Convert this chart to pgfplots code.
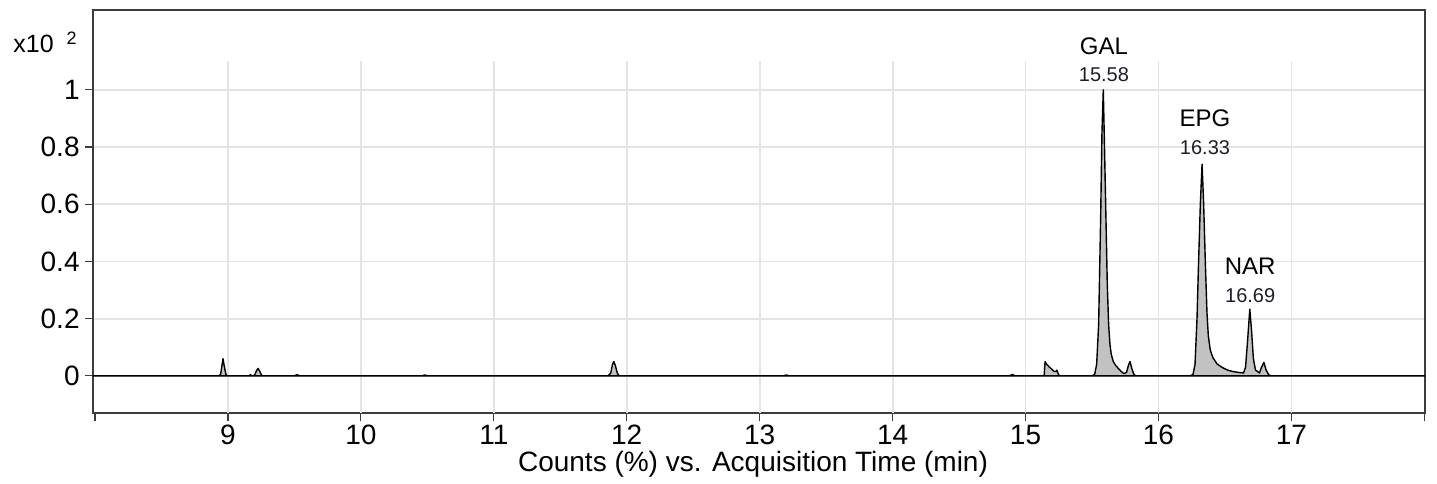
\documentclass[border=0pt]{standalone}
\usepackage{fontspec}
\setmainfont{Liberation Sans}
\usepackage{pgfplots}
\pgfplotsset{compat=1.18}
\definecolor{gridc}{HTML}{E4E4E4}
\definecolor{framec}{HTML}{3C3C3C}
\definecolor{fillc}{HTML}{C2C2C2}
\definecolor{numc}{HTML}{1E1E28}
\begin{document}
\begin{tikzpicture}
\useasboundingbox (-46.5pt,-35pt) rectangle (672pt,206.5pt);
\begin{axis}[
  name=ax,
  scale only axis, width=666pt, height=201.5pt,
  xmin=7.985, xmax=18.005, ymin=-0.130, ymax=1.279,
  axis line style={framec, line width=1.3pt},
  xtick={8,9,10,11,12,13,14,15,16,17,18},
  xticklabels={,9,10,11,12,13,14,15,16,17,},
  ytick={0,0.2,0.4,0.6,0.8,1},
  yticklabels={0,0.2,0.4,0.6,0.8,1},
  tick align=outside, major tick length=4pt,
  xtick pos=bottom, ytick pos=left,
  tick style={framec, line width=0.6pt},
  ymajorgrids, grid style={gridc, line width=0.9pt},
  ticklabel style={font=\fontsize{14}{16}\selectfont},
  yticklabel style={inner sep=2.5pt},
  xticklabel style={inner sep=2pt},
  xlabel={Counts (\%) vs. Acquisition Time (min)},
  xlabel style={font=\fontsize{14}{16}\selectfont, at={(axis description cs:0.5,0)}, anchor=center, yshift=-25.5pt, xshift=-3pt},
  clip mode=individual,
]
\pgfplotsinvokeforeach{9,10,11,12,13,14,15,16,17}{
  \draw[gridc, line width=0.9pt] (axis cs:#1,-0.130) -- (axis cs:#1,1.10);
}
\addplot[draw=black, line width=0.7pt, line join=round, fill=fillc] coordinates {
(7.985,0) (8.93,0) (8.945,0.005) (8.955,0.035) (8.963,0.06) (8.972,0.035) (8.985,0.005) (8.995,0)
(9.16,0) (9.17,0.004) (9.18,0) (9.20,0.002) (9.215,0.018) (9.227,0.026) (9.24,0.015) (9.255,0.001) (9.27,0)
(9.50,0) (9.52,0.004) (9.54,0)
(10.46,0) (10.48,0.003) (10.50,0)
(11.86,0) (11.88,0.01) (11.893,0.04) (11.903,0.05) (11.915,0.035) (11.93,0.008) (11.945,0)
(13.18,0) (13.2,0.003) (13.22,0)
(14.88,0) (14.90,0.005) (14.92,0)
(15.14,0) (15.147,0.05) (15.16,0.04) (15.18,0.03) (15.20,0.022) (15.215,0.015) (15.228,0.015) (15.236,0.02) (15.245,0.008) (15.255,0)
(15.50,0) (15.52,0.005) (15.535,0.04) (15.55,0.18) (15.565,0.55) (15.575,0.85) (15.585,1.0) (15.595,0.78) (15.605,0.55) (15.615,0.32) (15.625,0.18) (15.635,0.11) (15.645,0.075) (15.66,0.05) (15.68,0.035) (15.70,0.025) (15.72,0.015) (15.74,0.008) (15.76,0.012) (15.775,0.038) (15.786,0.05) (15.80,0.025) (15.815,0.005) (15.83,0)
(16.24,0) (16.26,0.005) (16.275,0.04) (16.29,0.2) (16.30,0.37) (16.315,0.6) (16.328,0.74) (16.34,0.6) (16.353,0.39) (16.365,0.22) (16.375,0.14) (16.39,0.09) (16.41,0.063) (16.44,0.042) (16.48,0.029) (16.52,0.02) (16.56,0.015) (16.60,0.012) (16.64,0.01) (16.655,0.03) (16.67,0.12) (16.687,0.233) (16.70,0.16) (16.714,0.06) (16.73,0.02) (16.76,0.01) (16.775,0.03) (16.793,0.047) (16.81,0.02) (16.83,0.003) (16.85,0)
(18.005,0)
} \closedcycle;
\node[font=\fontsize{12}{14}\selectfont] at (axis cs:15.59,1.154) {GAL};
\node[font=\fontsize{10}{12}\selectfont, text=numc] at (axis cs:15.59,1.052) {15.58};
\node[font=\fontsize{12}{14}\selectfont] at (axis cs:16.35,0.899) {EPG};
\node[font=\fontsize{10}{12}\selectfont, text=numc] at (axis cs:16.35,0.798) {16.33};
\node[font=\fontsize{12}{14}\selectfont] at (axis cs:16.69,0.383) {NAR};
\node[font=\fontsize{10}{12}\selectfont, text=numc] at (axis cs:16.69,0.281) {16.69};
\node[anchor=base west, inner sep=0pt, xshift=-40pt, yshift=-21.3pt, font=\fontsize{12.5}{14}\selectfont] at (rel axis cs:0,1) {x10\hspace{6.5pt}\raisebox{4pt}{\fontsize{9}{10}\selectfont 2}};
\end{axis}
\end{tikzpicture}
\end{document}
